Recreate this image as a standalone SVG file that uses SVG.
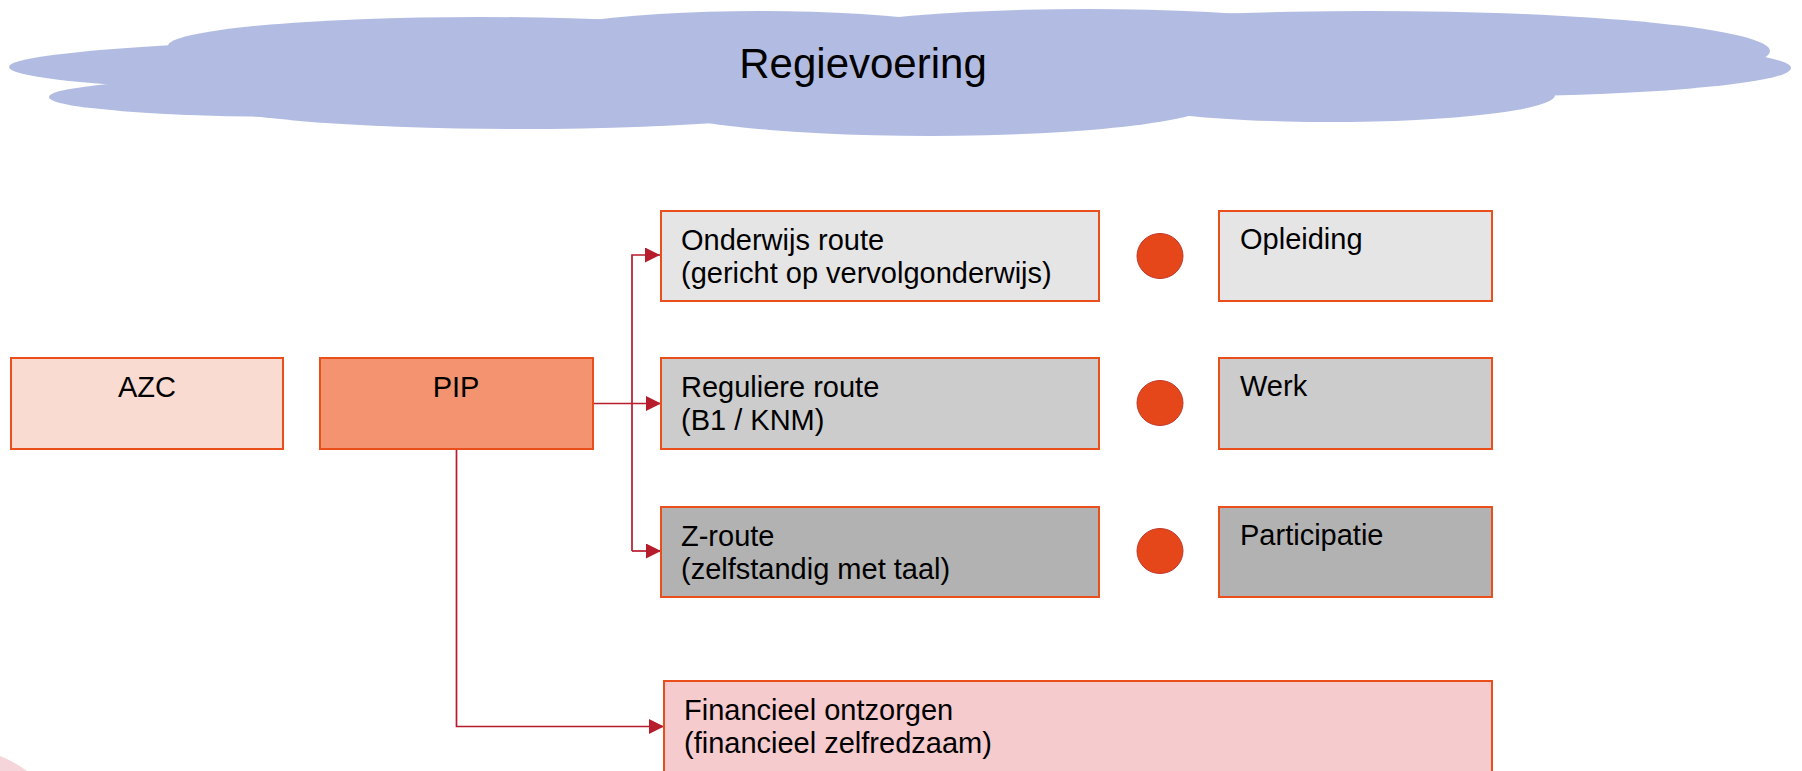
<svg xmlns="http://www.w3.org/2000/svg" width="1802" height="771" viewBox="0 0 1802 771">
<defs>
<style>
.box{stroke:#E94E1B;stroke-width:2}
.t{font-family:"Liberation Sans",Arial,sans-serif;font-size:29px;fill:#000}
.c{fill:none;stroke:#B71C2C;stroke-width:1.7}
.dot{fill:#E5461A;stroke:#C0392B;stroke-width:1}
.cl{fill:#B2BCE2}
</style>
<marker id="ah" viewBox="0 0 15 15" refX="15" refY="7.5" markerWidth="15" markerHeight="15" markerUnits="userSpaceOnUse" orient="auto">
<path d="M0,0 L15,7.5 L0,15 Z" fill="#B71C2C"/>
</marker>
</defs>
<rect width="1802" height="771" fill="#fff"/>
<path d="M0,756 Q15,762 27,771 L0,771 Z" fill="#F6D5DA"/>
<g id="cloud">
<ellipse class="cl" cx="609" cy="67" rx="600" ry="32"/>
<ellipse class="cl" cx="480" cy="46" rx="312" ry="29"/>
<ellipse class="cl" cx="760" cy="51" rx="265" ry="40"/>
<ellipse class="cl" cx="1087" cy="49" rx="316" ry="40"/>
<ellipse class="cl" cx="1370" cy="51" rx="400" ry="40"/>
<ellipse class="cl" cx="1500" cy="45" rx="252" ry="22"/>
<ellipse class="cl" cx="1450" cy="68" rx="341" ry="29"/>
<ellipse class="cl" cx="1330" cy="95" rx="225" ry="27"/>
<ellipse class="cl" cx="930" cy="100" rx="289" ry="36"/>
<ellipse class="cl" cx="520" cy="100" rx="320" ry="29"/>
<ellipse class="cl" cx="300" cy="97" rx="251" ry="20"/>
<ellipse class="cl" cx="900" cy="70" rx="800" ry="40"/>
<text x="863" y="78" text-anchor="middle" font-family="Liberation Sans, Arial, sans-serif" font-size="42" fill="#000">Regievoering</text>
</g>
<g id="connectors">
<path class="c" d="M593,403.5 H661" marker-end="url(#ah)"/>
<path class="c" d="M632,551 V255 H660" marker-end="url(#ah)"/>
<path class="c" d="M632,551 H661" marker-end="url(#ah)"/>
<path class="c" d="M456.5,449 V726.5 H664" stroke-width="2.4" marker-end="url(#ah)"/>
</g>
<g id="azc">
<rect class="box" x="11" y="358" width="272" height="91" fill="#FADBD2"/>
<text class="t" x="147" y="397" text-anchor="middle">AZC</text>
</g>
<g id="pip">
<rect class="box" x="320" y="358" width="273" height="91" fill="#F4936F"/>
<text class="t" x="456" y="397" text-anchor="middle">PIP</text>
</g>
<g id="onderwijs">
<rect class="box" x="661" y="211" width="438" height="90" fill="#E5E5E5"/>
<text class="t" x="681" y="250">Onderwijs route</text>
<text class="t" x="681" y="283">(gericht op vervolgonderwijs)</text>
</g>
<g id="regulier">
<rect class="box" x="661" y="358" width="438" height="91" fill="#CCCCCC"/>
<text class="t" x="681" y="397">Reguliere route</text>
<text class="t" x="681" y="430">(B1 / KNM)</text>
</g>
<g id="zroute">
<rect class="box" x="661" y="507" width="438" height="90" fill="#B2B2B2"/>
<text class="t" x="681" y="546">Z-route</text>
<text class="t" x="681" y="579">(zelfstandig met taal)</text>
</g>
<g id="dot1"><ellipse class="dot" cx="1160" cy="256" rx="23" ry="22.5"/></g>
<g id="dot2"><ellipse class="dot" cx="1160" cy="403" rx="23" ry="22.5"/></g>
<g id="dot3"><ellipse class="dot" cx="1160" cy="551" rx="23" ry="22.5"/></g>
<g id="opleiding">
<rect class="box" x="1219" y="211" width="273" height="90" fill="#E5E5E5"/>
<text class="t" x="1240" y="249">Opleiding</text>
</g>
<g id="werk">
<rect class="box" x="1219" y="358" width="273" height="91" fill="#CCCCCC"/>
<text class="t" x="1240" y="396">Werk</text>
</g>
<g id="participatie">
<rect class="box" x="1219" y="507" width="273" height="90" fill="#B2B2B2"/>
<text class="t" x="1240" y="545">Participatie</text>
</g>
<g id="financieel">
<rect class="box" x="664" y="681" width="828" height="100" fill="#F6CBCE"/>
<text class="t" x="684" y="720">Financieel ontzorgen</text>
<text class="t" x="684" y="753">(financieel zelfredzaam)</text>
</g>
</svg>
